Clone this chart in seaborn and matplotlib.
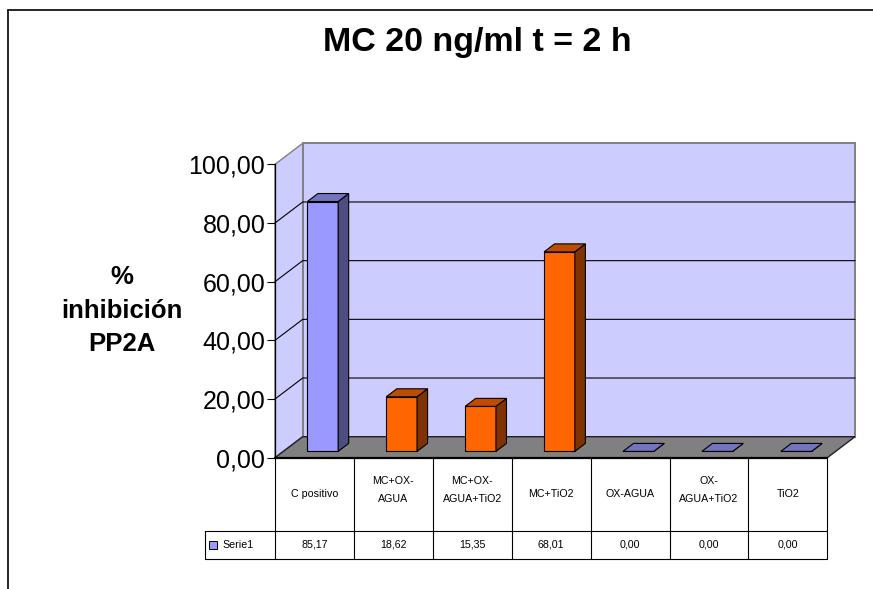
import matplotlib
matplotlib.use("Agg")
import matplotlib.pyplot as plt
import numpy as np
import pandas as pd
import seaborn as sns
from matplotlib.patches import Polygon, Rectangle
from matplotlib.lines import Line2D
from matplotlib.ticker import FuncFormatter, FixedLocator
from matplotlib.colors import to_rgb

# ---- data ----
categories = ["C positivo", "MC+OX-AGUA", "MC+OX-AGUA+TiO2", "MC+TiO2",
              "OX-AGUA", "OX-AGUA+TiO2", "TiO2"]
header_labels = ["C positivo", "MC+OX-\nAGUA", "MC+OX-\nAGUA+TiO2", "MC+TiO2",
                 "OX-AGUA", "OX-\nAGUA+TiO2", "TiO2"]
values = [85.17, 18.62, 15.35, 68.01, 0.00, 0.00, 0.00]
bar_colors = ["#9999FF", "#FF6600", "#FF6600", "#FF6600",
              "#9999FF", "#9999FF", "#9999FF"]
series_name = "Serie1"
series_color = "#9999FF"
y_ticks = [0, 20, 40, 60, 80, 100]
title = "MC 20 ng/ml t = 2 h"
y_label = "%\ninhibición\nPP2A"

# ---- figure setup ----
W, H, DPI = 873, 589, 100
sns.set_theme(style="white")
plt.rcParams["font.family"] = ["Liberation Sans", "DejaVu Sans"]
plt.rcParams.update({"text.color": "black", "axes.labelcolor": "black",
                     "xtick.color": "black", "ytick.color": "black"})

fig = plt.figure(figsize=(W / DPI, H / DPI), dpi=DPI)
fig.patch.set_facecolor("white")


def fx(px):
    return px / W


def fy(py):
    return 1 - py / H


def fmt(v):
    return f"{v:.2f}".replace(".", ",")


def shade(color, k):
    r, g, b = to_rgb(color)
    return (r * k, g * k, b * k)


# front plane of the plot area (pixels)
X0, X1 = 275.0, 827.3
Y0, Y100 = 457.7, 164.3
n = len(categories)
ax = fig.add_axes([fx(X0), fy(Y0), fx(X1) - fx(X0), fy(Y100) - fy(Y0)])
ax.set_facecolor("none")

df = pd.DataFrame({"categoria": categories, "valor": values})
sns.barplot(data=df, x="categoria", y="valor", hue="categoria",
            palette=bar_colors, width=0.39, legend=False, saturation=1,
            edgecolor="black", linewidth=0.8, ax=ax, zorder=5)
bars = sorted(ax.patches, key=lambda p: p.get_x())

ax.set_xlim(-0.5, n - 0.5)
ax.set_ylim(0, 100)

# depth of the 3-D box in data units
cat_px = (X1 - X0) / n
val_px = (Y0 - Y100) / 100
DX = 27.7 / cat_px
DY = 21.0 / val_px
F0, F1 = 0.30, 0.68

wall_c = "#CCCCFF"
side_wall = Polygon([(-0.5, 0), (-0.5, 100), (-0.5 + DX, 100 + DY), (-0.5 + DX, DY)],
                    closed=True, fc=wall_c, ec="#808080", lw=1.0,
                    clip_on=False, zorder=0.5)
back_wall = Rectangle((-0.5 + DX, DY), n, 100, fc=wall_c, ec="#808080", lw=1.4,
                      clip_on=False, zorder=0.5)
floor = Polygon([(-0.5, 0), (n - 0.5, 0), (n - 0.5 + DX, DY), (-0.5 + DX, DY)],
                closed=True, fc="#808080", ec="#202020", lw=1.0,
                clip_on=False, zorder=1)
for art in (side_wall, back_wall, floor):
    ax.add_patch(art)

for t in y_ticks[1:-1]:
    ax.plot([-0.5, -0.5 + DX, n - 0.5 + DX], [t, t + DY, t + DY],
            color="black", lw=0.8, clip_on=False, zorder=2)
ax.plot([-0.5, n - 0.5], [0, 0], color="black", lw=1.6, clip_on=False, zorder=6)

# extrude every bar into a box
for p, v, c in zip(bars, values, bar_colors):
    x0 = p.get_x()
    w = p.get_width()
    p.set_x(x0 + F0 * DX)
    p.set_y(F0 * DY)
    p.set_clip_on(False)
    xa, xb = x0 + F0 * DX, x0 + w + F0 * DX
    xc, xd = x0 + F1 * DX, x0 + w + F1 * DX
    ya, yb = F0 * DY, F1 * DY
    side = Polygon([(xb, ya), (xd, yb), (xd, v + yb), (xb, v + ya)], closed=True,
                   fc=shade(c, 0.5), ec="black", lw=0.8, clip_on=False, zorder=5)
    top = Polygon([(xa, v + ya), (xb, v + ya), (xd, v + yb), (xc, v + yb)], closed=True,
                  fc=shade(c, 0.75), ec="black", lw=0.8, clip_on=False, zorder=5)
    ax.add_patch(side)
    ax.add_patch(top)

ax.yaxis.set_major_locator(FixedLocator(y_ticks))
ax.yaxis.set_major_formatter(FuncFormatter(lambda v, _: fmt(v)))
ax.tick_params(axis="y", direction="out", length=6, width=0.8, pad=1,
               labelsize=18, colors="black", left=True)
ax.tick_params(axis="x", bottom=False, labelbottom=False)
ax.set_xlabel("")
ax.set_ylabel("")
for s in ["top", "right", "bottom"]:
    ax.spines[s].set_visible(False)
ax.spines["left"].set_bounds(0, 100)
ax.spines["left"].set_color("black")
ax.spines["left"].set_linewidth(0.9)

# ---- title and axis label ----
fig.text(fx(477), fy(42), title, ha="center", va="center",
         fontsize=24.5, fontweight="bold", color="black")
for i, line in enumerate(y_label.split("\n")):
    fig.text(fx(121.7), fy(284 + 33.7 * i), line, ha="center", va="baseline",
             fontsize=18.5, fontweight="bold", color="black")

# ---- data table ----
TB_TOP, TB_ROW, TB_BOT = 457.7, 530.5, 558.5
LEG_L = 204.5
tax = fig.add_axes([fx(X0), fy(TB_BOT), fx(X1) - fx(X0), fy(TB_TOP) - fy(TB_BOT)])
tax.set_xlim(-0.5, n - 0.5)
tax.set_ylim(TB_BOT, TB_TOP)
tax.axis("off")
leg_x = -0.5 - (X0 - LEG_L) / cat_px
lkw = dict(color="black", lw=0.8, clip_on=False)
for k in range(n + 1):
    tax.plot([k - 0.5, k - 0.5], [TB_TOP, TB_BOT], **lkw)
tax.plot([leg_x, n - 0.5], [TB_ROW, TB_ROW], **lkw)
tax.plot([leg_x, n - 0.5], [TB_BOT, TB_BOT], **lkw)
tax.plot([leg_x, leg_x], [TB_ROW, TB_BOT], **lkw)

head_c = (TB_TOP + TB_ROW) / 2
row_c = (TB_ROW + TB_BOT) / 2
for k, (lab, v) in enumerate(zip(header_labels, values)):
    lines = lab.split("\n")
    for j, line in enumerate(lines):
        yy = head_c + (j - (len(lines) - 1) / 2) * 17.5 - (len(lines) - 1) * 4
        tax.text(k, yy, line, ha="center", va="center", fontsize=7.7)
    tax.text(k, row_c, fmt(v), ha="center", va="center", fontsize=7.7)

sq = 8 / cat_px
tax.add_patch(Rectangle((leg_x + 4.5 / cat_px, row_c - 4), sq, 8,
                        fc=series_color, ec="black", lw=0.7, clip_on=False))
tax.text(leg_x + 17.5 / cat_px, row_c, series_name, ha="left", va="center", fontsize=7.7)

# ---- outer frame ----
fig.add_artist(Line2D([fx(8), fx(8)], [fy(10), 0], color="black", lw=1.2,
                      transform=fig.transFigure))
fig.add_artist(Line2D([fx(8), 1], [fy(10), fy(10)], color="black", lw=1.2,
                      transform=fig.transFigure))

fig.savefig("out.png", dpi=DPI)
